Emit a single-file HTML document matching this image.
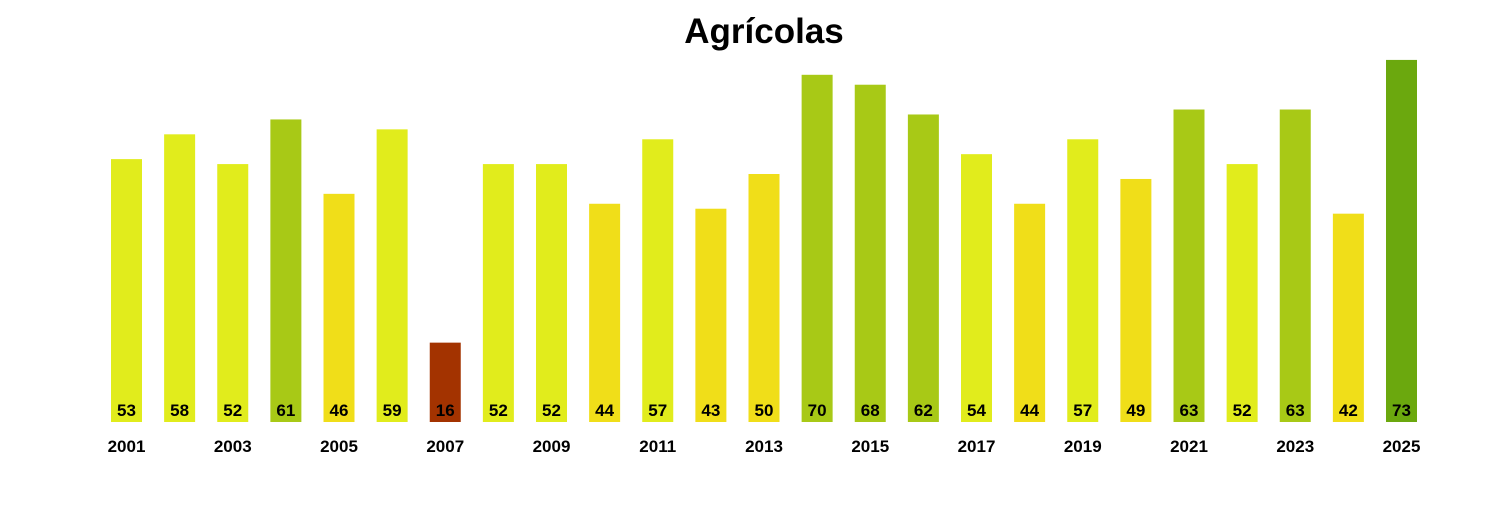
<!DOCTYPE html>
<html><head><meta charset="utf-8"><style>
body{margin:0;background:#fff;width:1500px;height:500px;overflow:hidden;font-family:"Liberation Sans",sans-serif}
</style></head><body>
<svg width="1500" height="500" xmlns="http://www.w3.org/2000/svg" font-family="Liberation Sans, sans-serif" font-weight="bold">
<text x="764" y="43" font-size="35" text-anchor="middle">Agrícolas</text>
<g id="bars"></g>
</svg>
<script>
const vals=[53,58,52,61,46,59,16,52,52,44,57,43,50,70,68,62,54,44,57,49,63,52,63,42,73];
function col(v){if(v<20)return"#a33300";if(v>=72)return"#6ba80e";if(v>=60)return"#a8c916";if(v>=51)return"#e1ec1c";return"#f0de19";}
let s="";
vals.forEach((v,i)=>{const x=111+i*53.125,h=v*4.96,top=422-h;
s+=`<rect x="${x}" y="${top}" width="31" height="${h}" fill="${col(v)}"/>`;
s+=`<text x="${x+15.5}" y="416" font-size="17" text-anchor="middle">${v}</text>`;
if(i%2==0)s+=`<text x="${x+15.5}" y="452" font-size="17" text-anchor="middle">${2001+i}</text>`;});
document.getElementById("bars").innerHTML=s;
</script>
</body></html>
